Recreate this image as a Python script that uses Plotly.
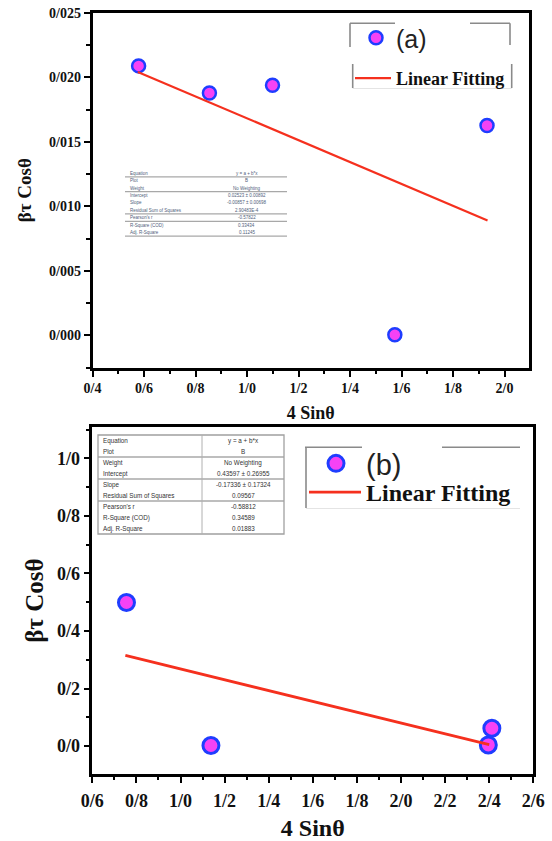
import plotly.graph_objects as go

# ---------------- data ----------------
# panel (a)
a_x = [0.579, 0.854, 1.099, 1.574, 1.932]
a_y = [0.02088, 0.01878, 0.01938, 0.00005, 0.01626]
a_fit_x = [0.576, 1.934]
a_fit_y = [0.02041, 0.00891]
a_xticks = [0.4, 0.6, 0.8, 1.0, 1.2, 1.4, 1.6, 1.8, 2.0]
a_xticktext = ["0/4", "0/6", "0/8", "1/0", "1/2", "1/4", "1/6", "1/8", "2/0"]
a_yticks = [0.0, 0.005, 0.010, 0.015, 0.020, 0.025]
a_yticktext = ["0/000", "0/005", "0/010", "0/015", "0/020", "0/025"]
a_table_labels = ["Equation", "Plot", "Weight", "Intercept", "Slope",
                  "Residual Sum of Squares", "Pearson's r", "R-Square (COD)", "Adj. R-Square"]
a_table_values = ["y = a + b*x", "B", "No Weighting", "0.02523 ± 0.00892",
                  "-0.00857 ± 0.00698", "2.90483E-4", "-0.57822", "0.33434", "0.11245"]

# panel (b)
b_x = [0.755, 1.138, 2.396, 2.412]
b_y = [0.499, 0.002, 0.004, 0.062]
b_fit_x = [0.75, 2.40]
b_fit_y = [0.315, 0.005]
b_xticks = [0.6, 0.8, 1.0, 1.2, 1.4, 1.6, 1.8, 2.0, 2.2, 2.4, 2.6]
b_xticktext = ["0/6", "0/8", "1/0", "1/2", "1/4", "1/6", "1/8", "2/0", "2/2", "2/4", "2/6"]
b_yticks = [0.0, 0.2, 0.4, 0.6, 0.8, 1.0]
b_yticktext = ["0/0", "0/2", "0/4", "0/6", "0/8", "1/0"]
b_table_labels = ["Equation", "Plot", "Weight", "Intercept", "Slope",
                  "Residual Sum of Squares", "Pearson's r", "R-Square (COD)", "Adj. R-Square"]
b_table_values = ["y = a + b*x", "B", "No Weighting", "0.43597 ± 0.26955",
                  "-0.17336 ± 0.17324", "0.09567", "-0.58812", "0.34589", "0.01883"]

# ---------------- styling ----------------
W, H = 552, 841
MARKER_FILL = "#f542f5"
MARKER_EDGE = "#1f3dff"
FIT_COLOR = "#f5301e"
SERIF = "Liberation Serif, Times New Roman, serif"
SANS = "Liberation Sans, Arial, sans-serif"


def px(x):
    return x / W


def py(y):
    return 1 - y / H


fig = go.Figure()

# panel (a)
fig.add_trace(go.Scatter(x=a_x, y=a_y, mode="markers", name="(a)",
                         marker=dict(size=13, color=MARKER_FILL,
                                     line=dict(color=MARKER_EDGE, width=2.5)),
                         xaxis="x", yaxis="y", legend="legend", showlegend=True))
fig.add_trace(go.Scatter(x=a_fit_x, y=a_fit_y, mode="lines", name="Linear Fitting",
                         line=dict(color=FIT_COLOR, width=2.2),
                         xaxis="x", yaxis="y", legend="legend2", showlegend=True))
# panel (b)
fig.add_trace(go.Scatter(x=b_x, y=b_y, mode="markers", name="(b)",
                         marker=dict(size=16, color=MARKER_FILL,
                                     line=dict(color=MARKER_EDGE, width=3)),
                         xaxis="x2", yaxis="y2", legend="legend3", showlegend=True))
fig.add_trace(go.Scatter(x=b_fit_x, y=b_fit_y, mode="lines", name="Linear Fitting",
                         line=dict(color=FIT_COLOR, width=2.8),
                         xaxis="x2", yaxis="y2", legend="legend4", showlegend=True))


def axis_style(tickvals, ticktext, rng, domain, fsize, minor_dtick, anchor, title, tfsize, standoff,
               lblstandoff=0):
    return dict(
        domain=domain, range=rng, anchor=anchor,
        tickmode="array", tickvals=tickvals, ticktext=ticktext,
        showline=True, linecolor="black", linewidth=2.6, mirror=True,
        ticks="outside", ticklen=6, tickwidth=2.4, tickcolor="black",
        minor=dict(ticks="outside", ticklen=3.5, tickwidth=2, tickcolor="black",
                   dtick=minor_dtick, showgrid=False),
        showgrid=False, zeroline=False,
        tickfont=dict(family=SERIF, size=fsize, color="#111111", weight="bold"),
        ticklabeloverflow="allow", ticklabelstandoff=lblstandoff,
        title=dict(text=title, font=dict(family=SERIF, size=tfsize, color="#111111", weight="bold"),
                   standoff=standoff),
        automargin=False,
    )


a_xdom = [px(92.5), px(529)]
a_ydom = [py(367.7), py(12.7)]
b_xdom = [px(92.3), px(533.3)]
b_ydom = [py(774), py(427.3)]

fig.update_layout(
    width=W, height=H, autosize=False, showlegend=True,
    margin=dict(l=0, r=0, t=0, b=0),
    paper_bgcolor="white", plot_bgcolor="white",
    xaxis=axis_style(a_xticks, a_xticktext, [0.4, 2.095], a_xdom, 14, 0.1, "y", "4 Sinθ", 18, 12),
    yaxis=axis_style(a_yticks, a_yticktext, [-0.0025, 0.025], a_ydom, 14, 0.0025, "x", "βτ Cosθ", 19, 13),
    xaxis2=axis_style(b_xticks, b_xticktext, [0.6, 2.6], b_xdom, 18, 0.1, "y2", "4 Sinθ", 24, 12, 3),
    yaxis2=axis_style(b_yticks, b_yticktext, [-0.097, 1.108], b_ydom, 18, 0.1, "x2", "βτ Cosθ", 25, 7),
    legend=dict(x=px(356), y=py(15), xanchor="left", yanchor="top",
                font=dict(family=SANS, size=25, color="#222222"),
                bgcolor="rgba(0,0,0,0)", borderwidth=0, itemwidth=30),
    legend2=dict(x=px(350), y=py(60), xanchor="left", yanchor="top",
                 font=dict(family=SERIF, size=18, color="#111111", weight="bold"),
                 bgcolor="rgba(0,0,0,0)", borderwidth=0, itemwidth=36),
    legend3=dict(x=px(306), y=py(438), xanchor="left", yanchor="top",
                 font=dict(family=SANS, size=29, color="#222222"),
                 bgcolor="rgba(0,0,0,0)", borderwidth=0, itemwidth=50),
    legend4=dict(x=px(304), y=py(470), xanchor="left", yanchor="top",
                 font=dict(family=SERIF, size=24, color="#111111", weight="bold"),
                 bgcolor="rgba(0,0,0,0)", borderwidth=0, itemwidth=52),
)

# partial legend frames
gray = "#8a8a8a"
frame_segments = [
    (350, 23.3, 395, 23.3), (470, 23.3, 510, 23.3), (350, 23.3, 350, 47), (510, 23.3, 510, 45),
    (352.7, 64, 352.7, 88), (511.7, 64, 511.7, 88),
    (305, 447.3, 362, 447.3), (442, 447.3, 520, 447.3), (306, 447.3, 306, 508),
]
for x0, y0, x1, y1 in frame_segments:
    fig.add_shape(type="line", xref="paper", yref="paper",
                  x0=px(x0), y0=py(y0), x1=px(x1), y1=py(y1),
                  line=dict(color=gray, width=1.6))
fig.add_shape(type="line", xref="paper", yref="paper", x0=px(352.7), y0=py(88.5), x1=px(511.7), y1=py(88.5),
              line=dict(color="#e4e4e4", width=1))
fig.add_shape(type="line", xref="paper", yref="paper", x0=px(306), y0=py(508.5), x1=px(520), y1=py(508.5),
              line=dict(color="#e4e4e4", width=1))


# statistics tables
def add_table(labels, values, left, right, top, row_h, col_split, fsize, color, seps, boxed):
    for i, (lab, val) in enumerate(zip(labels, values)):
        yc = top + row_h * (i + 0.5)
        fig.add_annotation(x=px(left + 3), y=py(yc), xref="paper", yref="paper",
                           text=lab, showarrow=False, xanchor="left", yanchor="middle",
                           font=dict(family=SANS, size=fsize, color=color))
        fig.add_annotation(x=px((col_split + right) / 2), y=py(yc), xref="paper", yref="paper",
                           text=val, showarrow=False, xanchor="center", yanchor="middle",
                           font=dict(family=SANS, size=fsize, color=color))
    for r in seps:
        yy = top + row_h * r
        fig.add_shape(type="line", xref="paper", yref="paper",
                      x0=px(left), y0=py(yy), x1=px(right), y1=py(yy),
                      line=dict(color="#a8a8a8", width=1.3))
    if boxed:
        fig.add_shape(type="rect", xref="paper", yref="paper",
                      x0=px(left), y0=py(top), x1=px(right), y1=py(top + row_h * len(labels)),
                      line=dict(color="#a0a0a0", width=1.3))
        fig.add_shape(type="line", xref="paper", yref="paper",
                      x0=px(col_split), y0=py(top), x1=px(col_split), y1=py(top + row_h * len(labels)),
                      line=dict(color="#b0b0b0", width=1))


add_table(a_table_labels, a_table_values, 125, 287, 169.5, 7.4, 206, 4.5, "#50607a",
          [1, 3, 6, 7, 9], False)
add_table(b_table_labels, b_table_values, 98, 284, 435, 11.0, 202, 6.3, "#333333",
          [2, 4, 6], True)

# remove the page's default 8px body margin so the figure sits at (0, 0)
fig.write_html("out.html", config={"displayModeBar": False},
               post_script="document.body.style.margin='0px';")
